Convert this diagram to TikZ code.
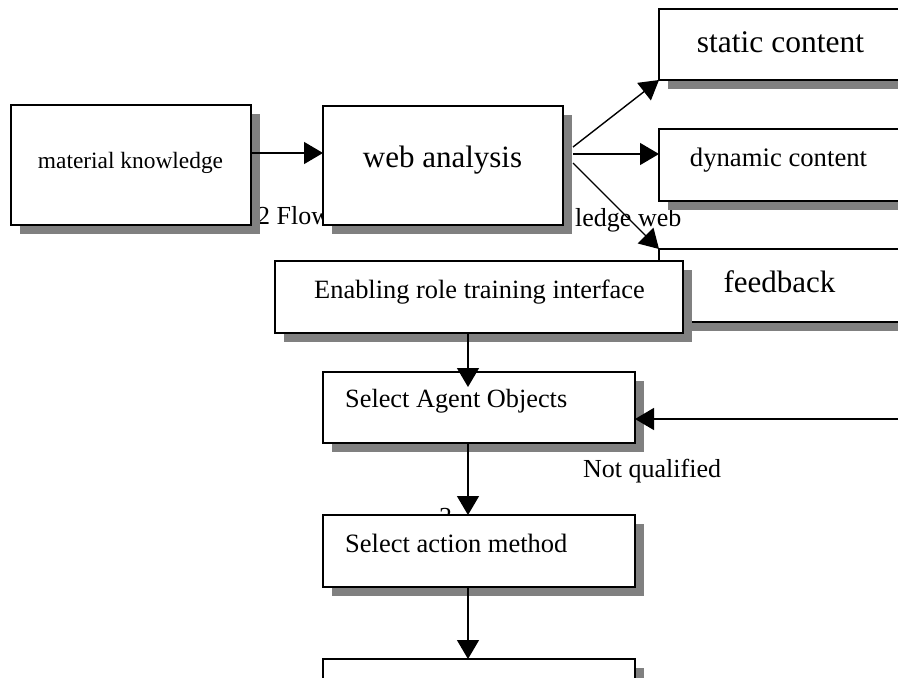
\documentclass[tikz,border=0pt]{standalone}
\usepackage{fontspec}
\setmainfont{Liberation Serif}
\usetikzlibrary{arrows.meta,shadows,calc}
\definecolor{shadowgray}{RGB}{128,128,128}

\tikzset{
  box/.style={draw, fill=white, line width=1.6pt, inner sep=0pt, outer sep=0pt, anchor=north west,
    drop shadow={shadow xshift=9pt, shadow yshift=-9pt, fill=shadowgray, opacity=1}},
  lbl/.style={inner sep=0pt, anchor=base},
  flow/.style={line width=1.4pt, -{Triangle[length=19pt,width=22pt]}},
}
\newcommand{\fs}[1]{\fontsize{#1}{#1}\selectfont}

\begin{document}
\begin{tikzpicture}[x=1pt,y=-1pt]
  \useasboundingbox (0,0) rectangle (898,678);
  \clip (0,0) rectangle (898,678);
  \fill[white] (0,0) rectangle (898,678);

  % caption pieces, mostly hidden by the boxes
  \node[lbl, anchor=base west] (capleft) at (257,224) {\fs{26}2 Flow};
  \node[lbl, anchor=base west] (capright) at (575,226) {\fs{26}ledge web};
  \node[lbl, anchor=base west] (capnum) at (439,525) {\fs{26}3};

  % boxes
  \node[box, minimum width=240pt, minimum height=120pt] (matknow) at (11,105) {};
  \node[box, minimum width=240pt, minimum height=119pt] (webana) at (323,106) {};
  \node[box, minimum width=270pt, minimum height=71pt] (static) at (659,9) {};
  \node[box, minimum width=270pt, minimum height=72pt] (dynamic) at (659,129) {};
  \node[box, minimum width=270pt, minimum height=73pt] (feedback) at (659,249) {};
  \node[box, minimum width=408pt, minimum height=72pt] (enabling) at (275,261) {};
  \node[box, minimum width=312pt, minimum height=71pt] (agentsel) at (323,372) {};
  \node[box, minimum width=312pt, minimum height=72pt] (actionsel) at (323,515) {};
  \node[box, minimum width=312pt, minimum height=72pt] (nextbox) at (323,659) {};

  % box texts
  \node[lbl] (matknow-t) at (130.5,168) {\fs{23.4}material knowledge};
  \node[lbl] (webana-t) at (442.5,167) {\fs{31}web analysis};
  \node[lbl] (static-t) at (780.5,52) {\fs{31.5}static content};
  \node[lbl] (dynamic-t) at (778.5,166) {\fs{26.7}dynamic content};
  \node[lbl] (feedback-t) at (779.5,292) {\fs{31}feedback};
  \node[lbl] (enabling-t) at (479.5,298) {\fs{26.4}Enabling role training interface};
  \node[lbl, anchor=base west] (agentsel-t) at (345,407) {\fs{26.3}Select Agent Objects};
  \node[lbl, anchor=base west] (actionsel-t) at (345,552) {\fs{26.5}Select action method};
  \node[lbl, anchor=base west] (notqual) at (583,477) {\fs{26}Not qualified};

  % connectors
  \coordinate (spine) at (468,0);
  \coordinate (webout1) at (573,147);
  \coordinate (webout2) at (573,154);
  \coordinate (webout3) at (573,163);
  \coordinate (retin) at (898,419);

  \draw[flow] ($(matknow.east)+(0,-12)$) -- ($(matknow.east -| webana.west)+(0,-12)$);
  \draw[flow] (webout1) -- (static.south west);
  \draw[flow] (webout2) -- (webout2 -| dynamic.west);
  \draw[flow] (webout3) -- (feedback.north west);
  \draw[flow] (enabling.south -| spine) -- ($(agentsel.north -| spine)+(0,15)$);
  \draw[flow] (agentsel.south -| spine) -- (actionsel.north -| spine);
  \draw[flow] (actionsel.south -| spine) -- (nextbox.north -| spine);
  \draw[flow] (retin) -- (retin -| agentsel.east);
\end{tikzpicture}
\end{document}
